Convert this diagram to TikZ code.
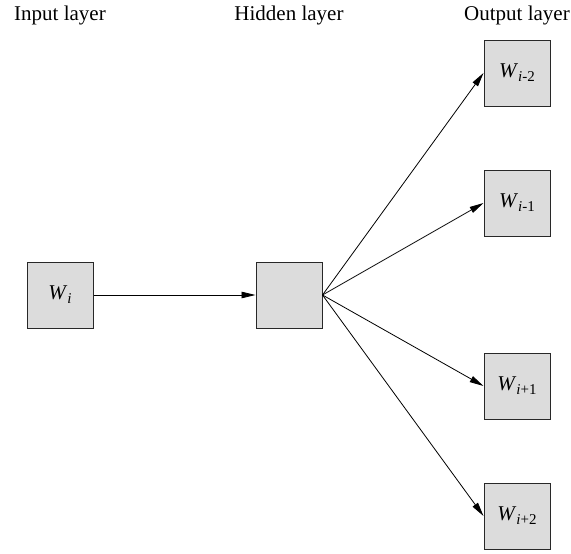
\documentclass[tikz,border=0pt]{standalone}
\usepackage{fontspec}
\setmainfont{Liberation Serif}
\usetikzlibrary{arrows.meta}
\definecolor{boxfill}{RGB}{220,220,220}
\definecolor{edge}{RGB}{40,40,40}
\newcommand{\wsub}[1]{\textit{W}\raisebox{-4pt}{\fontsize{15}{16}\selectfont #1}}
\tikzset{
  unit/.style={draw=edge, line width=1pt, fill=boxfill, minimum width=66pt, minimum height=66pt, inner sep=0pt, font=\fontsize{21}{23}\selectfont},
  head/.style={font=\fontsize{21}{23}\selectfont, anchor=base},
  conn/.style={draw=black, line width=0.8pt, -{Triangle[length=14pt,width=6.5pt]}}
}
\begin{document}
\begin{tikzpicture}[x=1pt,y=-1pt]
\useasboundingbox (0,0) rectangle (571,554);
\node[head] (tin) at (60,20) {Input layer};
\node[head] (thid) at (289,20) {Hidden layer};
\node[head] (tout) at (517,20) {Output layer};
\node[unit] (in) at (60,295) {\wsub{\textit{i}}};
\node[unit] (hid) at (289,295) {};
\node[unit] (o1) at (517,73) {\wsub{\textit{i}-2}};
\node[unit] (o2) at (517,203) {\wsub{\textit{i}-1}};
\node[unit] (o3) at (517,386) {\wsub{\textit{i}+1}};
\node[unit] (o4) at (517,516) {\wsub{\textit{i}+2}};
\draw[conn] (in.east) -- (hid.west);
\draw[conn] (hid.east) -- (o1.west);
\draw[conn] (hid.east) -- (o2.west);
\draw[conn] (hid.east) -- (o3.west);
\draw[conn] (hid.east) -- (o4.west);
\end{tikzpicture}
\end{document}
